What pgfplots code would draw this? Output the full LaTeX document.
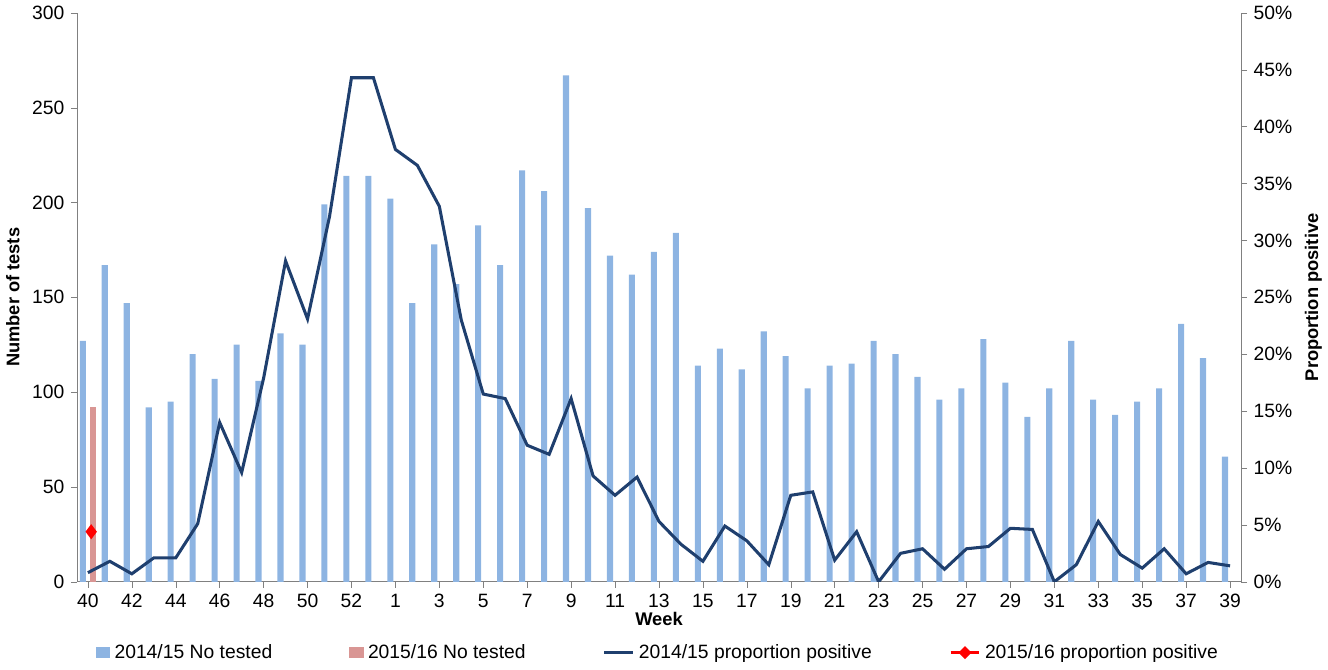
\documentclass[border=0pt]{standalone}
\usepackage{pgfplots}
\pgfplotsset{compat=1.18}
\usetikzlibrary{shapes.geometric}
\usepackage{fontspec}
\setmainfont{Liberation Sans}
\definecolor{bblue}{HTML}{8DB4E2}
\definecolor{bred}{HTML}{D99694}
\definecolor{lnavy}{HTML}{1F3F6E}
\begin{document}
\fontsize{9}{10}\selectfont
\begin{tikzpicture}
\begin{axis}[
  scale only axis, width=573pt, height=280pt,
  xmin=-0.5, xmax=52.5, ymin=0, ymax=300,
  ytick={0,50,...,300},
  xtick={0,2,...,52},
  xticklabels={40,42,44,46,48,50,52,1,3,5,7,9,11,13,15,17,19,21,23,25,27,29,31,33,35,37,39},
  axis y line*=left, axis x line*=bottom,
  axis line style={gray}, tick style={gray},
  tick align=outside, major tick length=3pt,
  ybar, bar width=3pt,
  ylabel={\textbf{Number of tests}}, xlabel={\textbf{Week}},
  xlabel style={yshift=4pt},
  /pgf/number format/assume math mode=true,
  ticklabel style={font=\fontsize{9.5}{10}\selectfont},
  legend style={at={(0.5,-0.095)}, anchor=north, draw=none, legend columns=4, font=\fontsize{9.5}{10}\selectfont, /tikz/every even column/.append style={column sep=36pt}},
  legend image code/.code={\draw[#1,draw=none] (0cm,-0.1cm) rectangle (0.25cm,0.1cm);},
]
\addplot[fill=bblue, draw=none] coordinates {
(0,127)(1,167)(2,147)(3,92)(4,95)(5,120)(6,107)(7,125)(8,106)(9,131)(10,125)(11,199)(12,214)(13,214)
(14,202)(15,147)(16,178)(17,157)(18,188)(19,167)(20,217)(21,206)(22,267)(23,197)(24,172)(25,162)(26,174)(27,184)
(28,114)(29,123)(30,112)(31,132)(32,119)(33,102)(34,114)(35,115)(36,127)(37,120)(38,108)(39,96)(40,102)(41,128)
(42,105)(43,87)(44,102)(45,127)(46,96)(47,88)(48,95)(49,102)(50,136)(51,118)(52,66)};
\addlegendentry{2014/15 No tested}
\addplot[fill=bred, draw=none] coordinates {(0,92)};
\addlegendentry{2015/16 No tested}
\addlegendimage{legend image code/.code={\draw[lnavy,line width=1.5pt] (0cm,0cm) -- (0.5cm,0cm);}}
\addlegendentry{2014/15 proportion positive}
\addlegendimage{legend image code/.code={\draw[red,line width=1.5pt] (0cm,0cm) -- (0.5cm,0cm); \node[red,diamond,fill,inner sep=1.3pt] at (0.25cm,0cm) {};}}
\addlegendentry{2015/16 proportion positive}
\end{axis}
\begin{axis}[
  scale only axis, width=573pt, height=280pt,
  xmin=-0.5, xmax=52.5, ymin=0, ymax=50,
  ytick={0,5,...,50}, yticklabel={\pgfmathprintnumber{\tick}\%},
  axis y line*=right, axis x line=none,
  axis line style={gray}, tick style={gray},
  tick align=outside, major tick length=3pt,
  ylabel={\textbf{Proportion positive}},
  /pgf/number format/assume math mode=true,
  ticklabel style={font=\fontsize{9.5}{10}\selectfont},
]
\addplot[lnavy, line width=1.5pt, mark=none] coordinates {
(0,0.8)(1,1.8)(2,0.7)(3,2.1)(4,2.1)(5,5.1)(6,14)(7,9.6)(8,17.9)(9,28.2)(10,23.1)(11,32.1)(12,44.3)(13,44.3)
(14,38)(15,36.6)(16,33)(17,23)(18,16.5)(19,16.1)(20,12)(21,11.2)(22,16.1)(23,9.3)(24,7.6)(25,9.2)(26,5.3)(27,3.3)
(28,1.8)(29,4.9)(30,3.6)(31,1.5)(32,7.6)(33,7.9)(34,1.9)(35,4.4)(36,0)(37,2.5)(38,2.9)(39,1.1)(40,2.9)(41,3.1)
(42,4.7)(43,4.6)(44,0)(45,1.5)(46,5.3)(47,2.4)(48,1.2)(49,2.9)(50,0.7)(51,1.7)(52,1.4)};
\addplot[red, line width=1.5pt, mark=diamond*, mark size=2.5pt] coordinates {(0.15,4.4)};
\end{axis}
\end{tikzpicture}
\end{document}
